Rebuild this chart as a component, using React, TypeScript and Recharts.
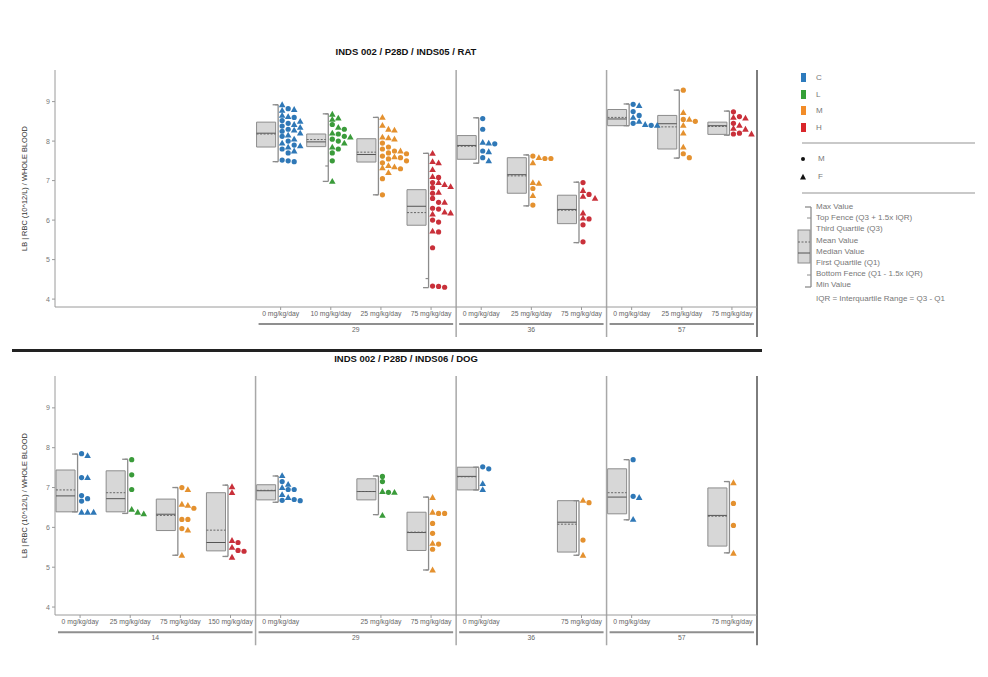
import React from 'react'
import { ComposedChart, XAxis, YAxis, Scatter, ReferenceArea, ReferenceLine } from 'recharts'

// study layout: each day keeps one slot per dose level, in both charts
const dayLabels = ['14', '29', '36', '57']
const dayDoses = [
  ['0', '25', '75', '150'],
  ['0', '10', '25', '75'],
  ['0', '25', '75'],
  ['0', '25', '75'],
]

const yTicks = [4, 5, 6, 7, 8, 9]
const yDomain: [number, number] = [3.8, 9.8]
const yLabel = 'LB | RBC (10^12/L) / WHOLE BLOOD'

const legendGroups = ['C', 'L', 'M', 'H']
const groupColors: Record<string, string> = { C: '#2f78b7', L: '#3a9b3a', M: '#e4912f', H: '#c9303a' }
const legendColors: Record<string, string> = { C: '#2d7bbd', L: '#35a037', M: '#f28c28', H: '#d9262b' }
const sexLegend = ['M', 'F']
const boxLegend = [
  'Max Value',
  'Top Fence (Q3 + 1.5x IQR)',
  'Third Quartile (Q3)',
  'Mean Value',
  'Median Value',
  'First Quartile (Q1)',
  'Bottom Fence (Q1 - 1.5x IQR)',
  'Min Value',
]

// INDS05 / RAT
const ratDay = ['29', '29', '29', '29', '36', '36', '36', '57', '57', '57']
const ratDose = ['0', '10', '25', '75', '0', '25', '75', '0', '25', '75']
const ratGroup = ['C', 'L', 'M', 'H', 'C', 'M', 'H', 'C', 'M', 'H']
const ratMin = [7.48, 6.98, 6.64, 4.29, 7.44, 6.36, 5.43, 8.39, 7.57, 8.15]
const ratLowFence = [7.48, 7.37, 6.64, 4.52, 7.44, 6.36, 5.43, 8.39, 7.57, 8.15]
const ratQ1 = [7.85, 7.86, 7.47, 5.87, 7.54, 6.68, 5.91, 8.39, 7.8, 8.17]
const ratMedian = [8.2, 7.98, 7.66, 6.35, 7.89, 7.15, 6.27, 8.56, 8.44, 8.39]
const ratMean = [8.18, 8.04, 7.72, 6.19, 7.87, 7.12, 6.25, 8.6, 8.36, 8.37]
const ratQ3 = [8.48, 8.18, 8.06, 6.77, 8.14, 7.58, 6.63, 8.8, 8.65, 8.48]
const ratHighFence = [8.92, 8.69, 8.6, 7.69, 8.59, 7.65, 6.96, 8.94, 9.29, 8.76]
const ratMax = [8.92, 8.69, 8.6, 7.69, 8.59, 7.65, 6.96, 8.94, 9.29, 8.76]
const ratMale = [
  [8.82, 8.6, 8.52, 8.45, 8.38, 8.3, 8.25, 8.12, 8.0, 7.9, 7.8, 7.7, 7.52, 7.5, 7.48],
  [8.42, 8.3, 8.18, 8.12, 8.05, 8.0, 7.8, 7.7, 7.5],
  [7.95, 7.85, 7.8, 7.75, 7.7, 7.68, 7.62, 7.58, 7.55, 7.5, 7.45, 7.3, 7.05, 6.64],
  [7.08, 6.95, 6.82, 6.68, 6.55, 6.45, 6.3, 6.28, 6.0, 5.95, 5.7, 5.3, 4.32, 4.3, 4.33],
  [8.57, 8.3, 7.93, 7.75, 7.58],
  [7.62, 7.56, 7.56, 6.8, 6.38],
  [6.95, 6.65, 6.03, 5.88, 5.45],
  [8.93, 8.75, 8.65, 8.45, 8.4],
  [9.29, 8.55, 8.5, 7.68, 7.58],
  [8.74, 8.62, 8.45, 8.2, 8.18],
]
const ratFemale = [
  [8.92, 8.8, 8.78, 8.65, 8.62, 8.5, 8.42, 8.35, 8.28, 8.2, 8.15, 8.05, 7.95, 7.88, 7.85, 7.75],
  [8.68, 8.58, 8.55, 8.35, 8.2, 8.1, 7.95, 7.85, 6.98],
  [8.6, 8.4, 8.3, 8.28, 8.1, 8.08, 8.05, 7.75, 7.6, 7.38, 7.35, 7.32, 7.2],
  [7.69, 7.48, 7.45, 7.28, 7.1, 6.95, 6.9, 6.85, 6.7, 6.45, 6.2, 6.18, 6.15, 5.72],
  [7.97, 7.95, 7.73, 7.5],
  [7.58, 7.45, 6.95, 6.93, 6.62],
  [6.75, 6.6, 6.55, 6.18, 6.05],
  [8.9, 8.6, 8.5, 8.42, 8.4],
  [8.72, 8.55, 8.4, 8.2, 7.85],
  [8.6, 8.58, 8.4, 8.32, 8.3, 8.18],
]

// INDS06 / DOG
const dogDay = ['14', '14', '14', '14', '29', '29', '29', '36', '36', '57', '57']
const dogDose = ['0', '25', '75', '150', '0', '25', '75', '0', '75', '0', '75']
const dogGroup = ['C', 'L', 'M', 'H', 'C', 'L', 'M', 'C', 'M', 'C', 'M']
const dogMin = [6.39, 6.35, 5.3, 5.27, 6.63, 6.32, 4.93, 6.94, 5.3, 6.19, 5.36]
const dogLowFence = [6.39, 6.35, 5.3, 5.27, 6.63, 6.32, 4.93, 6.94, 5.3, 6.19, 5.36]
const dogQ1 = [6.39, 6.39, 5.92, 5.41, 6.69, 6.69, 5.42, 6.94, 5.38, 6.34, 5.53]
const dogMedian = [6.79, 6.72, 6.33, 5.62, 6.92, 6.9, 5.87, 7.28, 6.13, 6.76, 6.3]
const dogMean = [6.94, 6.87, 6.3, 5.93, 6.93, 6.9, 5.88, 7.27, 6.08, 6.87, 6.28]
const dogQ3 = [7.44, 7.42, 6.71, 6.87, 7.07, 7.22, 6.38, 7.51, 6.67, 7.47, 6.99]
const dogHighFence = [7.84, 7.71, 7.0, 7.06, 7.29, 7.29, 6.76, 7.51, 6.67, 7.7, 7.15]
const dogMax = [7.84, 7.71, 7.0, 7.06, 7.29, 7.29, 6.76, 7.51, 6.67, 7.7, 7.15]
const dogMale = [
  [7.85, 7.25, 6.8, 6.72, 6.66],
  [7.7, 7.32, 6.95],
  [7.0, 6.48, 6.2, 6.2, 5.97],
  [5.62, 5.42, 5.4],
  [7.15, 6.95, 6.95, 6.68, 6.67, 6.7],
  [7.28, 7.15, 6.88],
  [6.35, 6.35, 6.1, 5.85, 5.58, 5.45],
  [7.52, 7.47],
  [6.62, 5.68],
  [7.7, 6.78],
  [6.6, 6.05],
]
const dogFemale = [
  [7.8, 7.25, 6.38, 6.38, 6.38],
  [6.45, 6.38, 6.34],
  [6.95, 6.58, 6.55, 5.93, 5.3],
  [7.02, 6.87, 5.67, 5.5, 5.25],
  [7.3, 7.08, 7.0, 6.82, 6.75],
  [6.9, 6.88, 6.3],
  [6.75, 6.38, 5.6, 4.93],
  [7.1, 6.95],
  [6.68, 5.3],
  [6.75, 6.2],
  [7.12, 5.35],
]

type Spec = {
  day: string[]; dose: string[]; group: string[]
  min: number[]; lowFence: number[]; q1: number[]; median: number[]; mean: number[]
  q3: number[]; highFence: number[]; max: number[]; male: number[][]; female: number[][]
}

const ratSpec: Spec = {
  day: ratDay, dose: ratDose, group: ratGroup, min: ratMin, lowFence: ratLowFence, q1: ratQ1,
  median: ratMedian, mean: ratMean, q3: ratQ3, highFence: ratHighFence, max: ratMax,
  male: ratMale, female: ratFemale,
}
const dogSpec: Spec = {
  day: dogDay, dose: dogDose, group: dogGroup, min: dogMin, lowFence: dogLowFence, q1: dogQ1,
  median: dogMedian, mean: dogMean, q3: dogQ3, highFence: dogHighFence, max: dogMax,
  male: dogMale, female: dogFemale,
}

const dayStart: number[] = []
dayDoses.forEach((d, i) => dayStart.push(i === 0 ? 0 : dayStart[i - 1] + dayDoses[i - 1].length))
const totalSlots = dayStart[dayStart.length - 1] + dayDoses[dayDoses.length - 1].length

const slotCenter = (day: string, dose: string) => {
  const i = dayLabels.indexOf(day)
  return dayStart[i] + dayDoses[i].indexOf(dose) + 0.5
}

// simple beeswarm: points go right of the bracket, stacked into columns
function swarm(center: number, male: number[], female: number[]) {
  const pts = [
    ...male.map((v) => ({ v, sex: 'M' })),
    ...female.map((v) => ({ v, sex: 'F' })),
  ].sort((a, b) => b.v - a.v)
  const cols: number[][] = []
  return pts.map((p) => {
    let k = 0
    while (cols[k] && cols[k].some((u) => Math.abs(u - p.v) < 0.125)) k++
    if (!cols[k]) cols[k] = []
    cols[k].push(p.v)
    return { x: center + 0.03 + k * 0.12, y: p.v, sex: p.sex }
  })
}

const mark = (color: string) => (p: any) => {
  const { cx, cy, payload } = p
  if (payload.sex === 'M') return <circle cx={cx} cy={cy} r={2.6} fill={color} />
  return <path d={`M${cx},${cy - 3.4}L${cx + 3.3},${cy + 2.4}L${cx - 3.3},${cy + 2.4}Z`} fill={color} />
}

const boxStroke = '#8c8c8c'

function StudyChart({ spec, height, marginTop }: { spec: Spec; height: number; marginTop: number }) {
  const boxes = spec.day.map((day, i) => {
    const c = slotCenter(day, spec.dose[i])
    return {
      c, dose: spec.dose[i], color: groupColors[spec.group[i]],
      min: spec.min[i], lf: spec.lowFence[i], q1: spec.q1[i], med: spec.median[i], mean: spec.mean[i],
      q3: spec.q3[i], hf: spec.highFence[i], max: spec.max[i],
      pts: swarm(c, spec.male[i], spec.female[i]),
    }
  })
  const tickLabel = new Map(boxes.map((b) => [b.c, `${b.dose} mg/kg/day`]))
  const dayIdx = dayLabels.map((d, i) => (spec.day.includes(d) ? i : -1)).filter((i) => i >= 0)
  const separators = dayIdx.slice(1).map((i) => dayStart[i])
  const lineBottom = 3.04
  const bandY = 3.37

  const refs: React.ReactElement[] = []
  boxes.forEach((b, i) => {
    const bx = b.c - 0.05
    refs.push(
      <ReferenceArea key={`a${i}`} x1={b.c - 0.48} x2={b.c - 0.1} y1={b.q1} y2={b.q3}
        fill="#d7d7d7" fillOpacity={1} stroke={boxStroke} strokeWidth={1} />,
      <ReferenceLine key={`md${i}`} segment={[{ x: b.c - 0.48, y: b.med }, { x: b.c - 0.1, y: b.med }]}
        stroke="#555" strokeWidth={1} />,
      <ReferenceLine key={`mn${i}`} segment={[{ x: b.c - 0.48, y: b.mean }, { x: b.c - 0.1, y: b.mean }]}
        stroke="#666" strokeWidth={1} strokeDasharray="2 1.5" />,
      <ReferenceLine key={`w${i}`} segment={[{ x: bx, y: b.min }, { x: bx, y: b.max }]}
        stroke={boxStroke} strokeWidth={1.3} />,
      <ReferenceLine key={`wt${i}`} segment={[{ x: b.c - 0.16, y: b.max }, { x: bx, y: b.max }]}
        stroke={boxStroke} strokeWidth={1.3} />,
      <ReferenceLine key={`wb${i}`} segment={[{ x: b.c - 0.16, y: b.min }, { x: bx, y: b.min }]}
        stroke={boxStroke} strokeWidth={1.3} />,
      <ReferenceLine key={`fh${i}`} segment={[{ x: b.c - 0.11, y: b.hf }, { x: bx, y: b.hf }]}
        stroke={boxStroke} strokeWidth={1.2} />,
      <ReferenceLine key={`fl${i}`} segment={[{ x: b.c - 0.11, y: b.lf }, { x: bx, y: b.lf }]}
        stroke={boxStroke} strokeWidth={1.2} />,
    )
  })

  return (
    <ComposedChart width={770} height={height} margin={{ top: marginTop, right: 13, bottom: 0, left: 0 }}>
      <XAxis type="number" dataKey="x" domain={[0, totalSlots]} allowDataOverflow ticks={boxes.map((b) => b.c)}
        interval={0} tickFormatter={(v) => tickLabel.get(v) ?? ''} height={38} tickSize={3} tickMargin={1}
        tick={{ fontSize: 6.8, fill: '#666' }} stroke="#9a9a9a" />
      <YAxis type="number" dataKey="y" domain={yDomain} allowDataOverflow ticks={yTicks} width={55}
        tickSize={3} tick={{ fontSize: 7, fill: '#777' }} stroke="#9a9a9a"
        label={{ value: yLabel, angle: -90, position: 'center', dx: -3, fontSize: 7.4, fill: '#333' }} />
      {refs}
      {separators.map((s) => (
        <ReferenceLine key={`s${s}`} ifOverflow="visible" segment={[{ x: s, y: yDomain[1] }, { x: s, y: lineBottom }]}
          stroke="#a8a8a8" strokeWidth={1.5} />
      ))}
      <ReferenceLine ifOverflow="visible" segment={[{ x: totalSlots, y: yDomain[1] }, { x: totalSlots, y: lineBottom }]}
        stroke="#6f6f6f" strokeWidth={1.8} />
      {dayIdx.map((i) => (
        <ReferenceLine key={`g${i}`} ifOverflow="visible"
          segment={[{ x: dayStart[i] + 0.06, y: bandY }, { x: dayStart[i] + dayDoses[i].length - 0.06, y: bandY }]}
          stroke="#8f8f8f" strokeWidth={2}
          label={{ value: dayLabels[i], position: 'bottom', offset: 3, fontSize: 6.8, fill: '#666' }} />
      ))}
      {boxes.map((b, i) => (
        <Scatter key={`p${i}`} data={b.pts} dataKey="y" fill={b.color} shape={mark(b.color)} isAnimationActive={false} />
      ))}
    </ComposedChart>
  )
}

function Legend() {
  const txt: React.CSSProperties = { position: 'absolute', fontSize: 8, color: '#777', lineHeight: '10px', whiteSpace: 'nowrap' }
  return (
    <>
      {legendGroups.map((g, i) => (
        <React.Fragment key={g}>
          <div style={{ position: 'absolute', left: 801, top: 73 + i * 16.5, width: 5, height: 9, background: legendColors[g] }} />
          <div style={{ ...txt, left: 816, top: 73 + i * 16.5 }}>{g}</div>
        </React.Fragment>
      ))}
      <div style={{ position: 'absolute', left: 802, top: 142, width: 173, height: 2, background: '#c9c9c9' }} />
      {sexLegend.map((s, i) => (
        <React.Fragment key={s}>
          <svg style={{ position: 'absolute', left: 799, top: 154 + i * 18 }} width={8} height={9}>
            {s === 'M' ? <circle cx={4} cy={5} r={2} fill="#111" /> : <path d="M4,1.8L7,7.5L1,7.5Z" fill="#111" />}
          </svg>
          <div style={{ ...txt, left: 818, top: 154 + i * 18 }}>{s}</div>
        </React.Fragment>
      ))}
      <div style={{ position: 'absolute', left: 802, top: 192, width: 173, height: 2, background: '#c9c9c9' }} />
      <svg style={{ position: 'absolute', left: 795, top: 200 }} width={20} height={95}>
        <rect x={3} y={30} width={12} height={33} fill="#d7d7d7" stroke={boxStroke} />
        <line x1={3} x2={15} y1={42} y2={42} stroke="#666" strokeDasharray="2 1.5" />
        <line x1={3} x2={15} y1={53} y2={53} stroke="#555" />
        <line x1={16} x2={16} y1={7} y2={87} stroke={boxStroke} strokeWidth={1.3} />
        <line x1={10} x2={16} y1={7} y2={7} stroke={boxStroke} strokeWidth={1.3} />
        <line x1={10} x2={16} y1={87} y2={87} stroke={boxStroke} strokeWidth={1.3} />
        <line x1={12} x2={16} y1={18} y2={18} stroke={boxStroke} />
        <line x1={12} x2={16} y1={75} y2={75} stroke={boxStroke} />
      </svg>
      {boxLegend.map((t, i) => (
        <div key={t} style={{ ...txt, left: 816, top: 202 + i * 11.2 }}>{t}</div>
      ))}
      <div style={{ ...txt, left: 816, top: 294 }}>IQR = Interquartile Range = Q3 - Q1</div>
    </>
  )
}

export default function App() {
  const title: React.CSSProperties = {
    position: 'absolute', left: 55, width: 702, textAlign: 'center', fontSize: 9.5, fontWeight: 'bold',
    color: '#111', lineHeight: '11px',
  }
  return (
    <div style={{ position: 'absolute', left: 0, top: 0, width: 988, height: 677, background: '#fff',
      fontFamily: '"Liberation Sans", Arial, sans-serif', overflow: 'hidden' }}>
      <div style={{ position: 'absolute', left: 0, top: 0 }}>
        <StudyChart spec={ratSpec} height={345} marginTop={70} />
      </div>
      <div style={{ position: 'absolute', left: 0, top: 330 }}>
        <StudyChart spec={dogSpec} height={323} marginTop={46} />
      </div>
      <div style={{ position: 'absolute', left: 12, top: 349, width: 750, height: 2.5, background: '#222' }} />
      <div style={{ ...title, top: 46 }}>INDS 002 / P28D / INDS05 / RAT</div>
      <div style={{ ...title, top: 353 }}>INDS 002 / P28D / INDS06 / DOG</div>
      <Legend />
    </div>
  )
}
